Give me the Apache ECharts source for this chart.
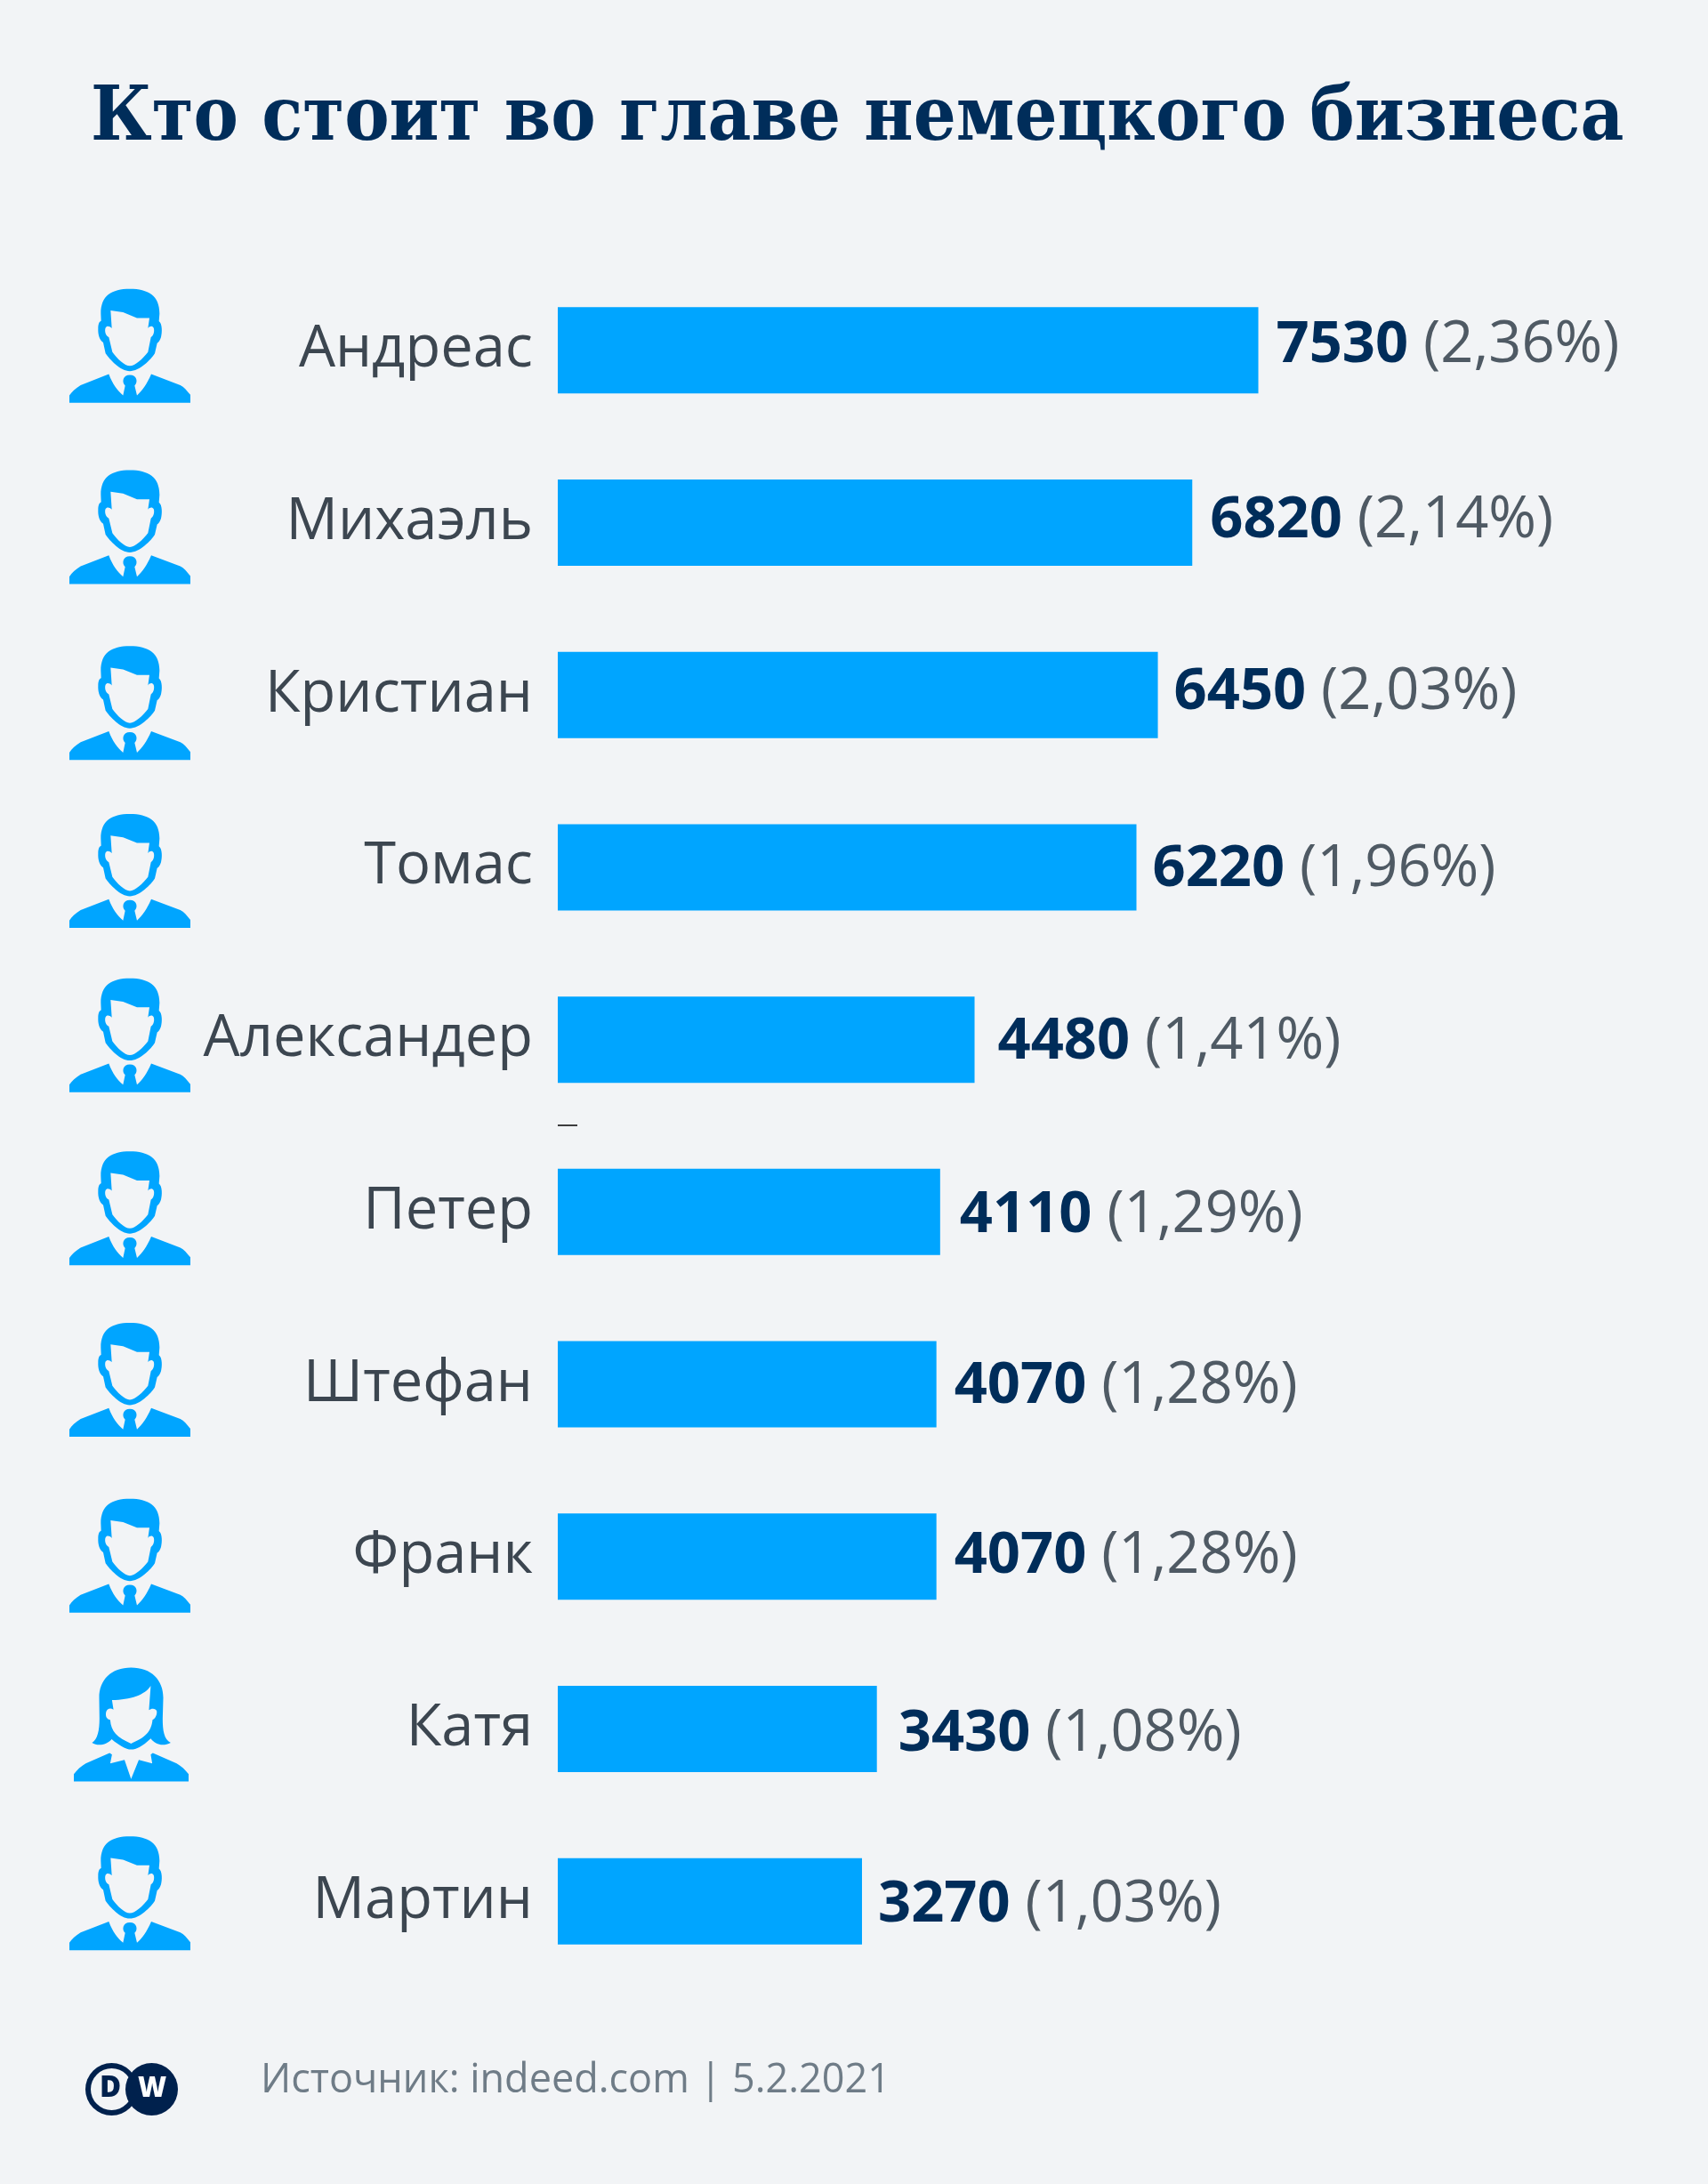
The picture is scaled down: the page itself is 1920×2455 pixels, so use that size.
<!DOCTYPE html>
<html>
<head>
<meta charset="utf-8">
<style>html,body{margin:0;padding:0;background:#f2f4f6}#c{width:1920px;height:2455px}</style>
<script src="https://cdn.jsdelivr.net/npm/echarts@6/dist/echarts.min.js"></script>
</head>
<body>
<div id="c"></div>
<script>
const titleText = 'Кто стоит во главе немецкого бизнеса';
const sourceText = 'Источник: indeed.com | 5.2.2021';
const names = ['Андреас','Михаэль','Кристиан','Томас','Александер','Петер','Штефан','Франк','Катя','Мартин'];
const counts = [7530,6820,6450,6220,4480,4110,4070,4070,3430,3270];
const shares = ['2,36','2,14','2,03','1,96','1,41','1,29','1,28','1,28','1,08','1,03'];
const gender = ['m','m','m','m','m','m','m','m','f','m'];

// layout nudges per row (px): the reference rows are slightly irregular
const nameDy = [0,3,0,0,-2,-2,-5,-8,-6,-9];
const valueDx = [0,0,-2,-2,6,2,0,0,4,-2];
const valueDy = [-5,-2,-3,3,3,4,2,0,6,4];
const iconDy = [-5,5,9,4,-5,-4,-5,-1,-5,-9];

const BG = '#f2f4f6', BLUE = '#00a5ff', NAVY = '#002d5a', GREY = '#3c4650', GREY2 = '#4f5a64', SRC = '#6f7c87';

const male = 'path://M228 27C290 27 328 50 328 110L326 136C338 145 337 175 333 190C330 200 325 208 320 210L312 245C300 265 260 305 228 305C196 305 160 265 146 245L138 208C125 200 120 180 121 160C121 145 125 137 131 135L130 110C130 50 166 27 228 27Z'
  + 'M163 100L167 160C160 152 150 150 146 158C142 168 146 185 157 190L169 240C185 262 210 287 228 287C246 287 272 262 289 240L299 190C308 185 312 168 308 158C304 150 294 152 289 160L294 125L252 125L205 106Z'
  + 'M157 315L62 352C45 362 32 375 24 387L24 412L432 412L432 385C420 370 410 358 398 352L300 315C285 350 270 370 252 387L244 354C256 342 252 318 228 318C204 318 200 342 212 354L205 387C186 370 170 350 157 315Z';
const female = 'path://M262 68C330 68 370 110 370 170L368 240C368 280 372 310 395 322C370 335 345 330 328 308C300 335 280 345 262 345C245 345 220 330 197 310C180 330 150 335 131 322C150 310 156 280 156 240L155 170C155 110 195 68 262 68Z'
  + 'M198 178L203 210C185 200 175 215 178 232C180 242 190 245 192 245C195 285 215 305 262 325C310 305 330 285 334 245C345 240 350 225 348 215C345 205 330 205 322 212L328 130C310 160 260 178 198 178Z'
  + 'M190 357L110 392C95 400 80 415 70 428L70 453L455 453L455 428C445 415 430 400 415 392L335 357L328 362L333 392L288 380L262 445L240 380L192 392L198 362Z';

const gridTop = 297, gridH = 1937;
const chart = echarts.init(document.getElementById('c'), null, {renderer:'canvas'});
chart.setOption({
  animation:false,
  backgroundColor:BG,
  title:[
    {text:titleText,left:97,top:88,textStyle:{fontFamily:'"DejaVu Serif Condensed","DejaVu Serif",serif',fontWeight:'bold',fontSize:84,color:NAVY}},
    {text:sourceText,left:288,top:2312,textStyle:{fontFamily:'"Open Sans"',fontWeight:'normal',fontSize:45,color:SRC}}
  ],
  grid:[
    {left:627,top:gridTop,width:1255,height:gridH},
    {left:0,top:gridTop,width:260,height:gridH}
  ],
  xAxis:[
    {type:'value',min:0,max:12000,show:false,gridIndex:0},
    {type:'value',min:0,max:260,show:false,gridIndex:1}
  ],
  yAxis:[
    {type:'category',inverse:true,gridIndex:0,
     data:names.map((n,i)=>({value:n,textStyle:{padding:nameDy[i]>=0?[nameDy[i]*2,0,0,0]:[0,0,-nameDy[i]*2,0]}})),
     axisLine:{show:false},axisTick:{show:false},
     axisLabel:{margin:28,fontFamily:'"Open Sans"',fontSize:65,color:GREY}},
    {type:'category',inverse:true,gridIndex:1,data:names,show:false}
  ],
  series:[
    {type:'bar',xAxisIndex:0,yAxisIndex:0,barWidth:97,silent:true,itemStyle:{color:BLUE},
     data:counts.map((v,i)=>({value:v,label:{offset:[valueDx[i],valueDy[i]]}})),
     label:{show:true,position:'right',distance:20,fontFamily:'"Open Sans"',fontSize:65,color:GREY2,
       formatter:p=>`{v|${counts[p.dataIndex]}} {s|(${shares[p.dataIndex]}%)}`,
       rich:{v:{fontFamily:'"Open Sans"',fontWeight:'bold',fontSize:65,color:NAVY},
             s:{fontFamily:'"Open Sans"',fontSize:65,color:GREY2}}}},
    {type:'scatter',xAxisIndex:1,yAxisIndex:1,silent:true,itemStyle:{color:BLUE,opacity:1},
     data:names.map((n,i)=>({value:[gender[i]==='m'?146:147.5,i],
       symbol:gender[i]==='m'?male:female,
       symbolSize:gender[i]==='m'?[136,128]:[129,128],
       symbolOffset:[0,iconDy[i]]}))}
  ],
  graphic:[
    {type:'line',shape:{x1:627,y1:1265,x2:649,y2:1265},style:{stroke:'#000',lineWidth:1.5},silent:true},
    {type:'circle',shape:{cx:125.5,cy:2348.5,r:29.5},style:{fill:'#00214d'},silent:true},
    {type:'circle',shape:{cx:125.5,cy:2348.5,r:23.5},style:{fill:BG},silent:true},
    {type:'circle',shape:{cx:170.5,cy:2348.5,r:29.5},style:{fill:'#00214d'},silent:true},
    {type:'text',x:124,y:2348,silent:true,style:{text:'D',font:'800 33px "Open Sans"',fill:'#00214d',align:'center',verticalAlign:'middle'}},
    {type:'text',x:171,y:2348,silent:true,style:{text:'W',font:'800 31px "Open Sans"',fill:'#fff',align:'center',verticalAlign:'middle'}}
  ]
});
</script>
</body>
</html>
